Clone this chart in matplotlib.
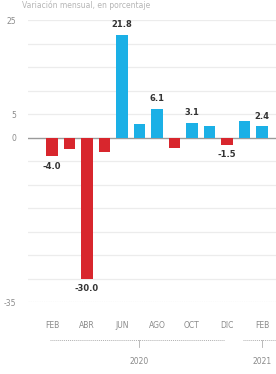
import matplotlib.pyplot as plt
import matplotlib.transforms as mtransforms

# monthly change, feb 2020 .. feb 2021
months = ["FEB", "MAR", "ABR", "MAY", "JUN", "JUL", "AGO", "SEP", "OCT", "NOV", "DIC", "ENE", "FEB"]
values = [-4.0, -2.4, -30.0, -3.0, 21.8, 2.8, 6.1, -2.3, 3.1, 2.4, -1.5, 3.6, 2.4]
labeled = [0, 2, 4, 6, 8, 10, 12]
ytick_vals = [25, 5, 0, -35]
years = ["2020", "2021"]
year_first = [0, 11]
year_last = [10, 13]

BLUE = "#1bb0e6"
RED = "#d8262d"
GRAY = "#8a8a8a"

fig = plt.figure(figsize=(2.76, 3.74), dpi=100)
ax = fig.add_axes([0.1, 0.1925, 0.9, 0.754])

x = list(range(len(values)))
colors = [BLUE if v >= 0 else RED for v in values]
ax.bar(x, values, width=0.64, color=colors, zorder=3)

ax.set_xlim(-1.39, 12.8)
ax.set_ylim(-35, 25)

# grid
for g in range(-30, 26, 5):
    if g != 0:
        ax.axhline(g, color="#ececec", lw=0.9, zorder=1)
ax.axhline(-35, color="#bdbdbd", lw=0.8, ls=(0, (1, 1)), zorder=1)
ax.axhline(0, color="#9a9a9a", lw=1.0, zorder=2, xmin=-0.01)

for s in ax.spines.values():
    s.set_visible(False)
ax.set_yticks(ytick_vals)
ax.set_yticklabels([str(v) for v in ytick_vals])
ax.set_xticks(x[::2])
ax.set_xticklabels(months[::2])
ax.tick_params(axis="both", length=0, labelsize=5.5, labelcolor=GRAY)
ax.tick_params(axis="y", pad=8)
ax.tick_params(axis="x", pad=14)

for i in labeled:
    v = values[i]
    off = 4 if v >= 0 else -4
    ax.annotate(f"{v:.1f}", (i, v), xytext=(0, off), textcoords="offset points",
                ha="center", va="bottom" if v >= 0 else "top",
                fontsize=6, fontweight="bold", color="#333333", zorder=4)

# year brackets under the month labels
trans = mtransforms.blended_transform_factory(ax.transData, ax.transAxes)
for name, a, b in zip(years, year_first, year_last):
    ax.plot([a - 0.1, b - 0.1], [-0.135, -0.135], transform=trans, clip_on=False,
            color="#b0b0b0", lw=0.7, ls=(0, (1, 1)))
    mid = (a + b) / 2 if b <= 10 else 12
    ax.plot([mid, mid], [-0.135, -0.16], transform=trans, clip_on=False,
            color="#b0b0b0", lw=0.6)
    ax.text(mid, -0.21, name, transform=trans, ha="center", va="center",
            fontsize=5.5, color=GRAY)

fig.text(0.08, 0.998, "Variación mensual, en porcentaje", ha="left", va="top",
         fontsize=5.5, color="#b5b5b5")

fig.savefig("out.png", dpi=100)
